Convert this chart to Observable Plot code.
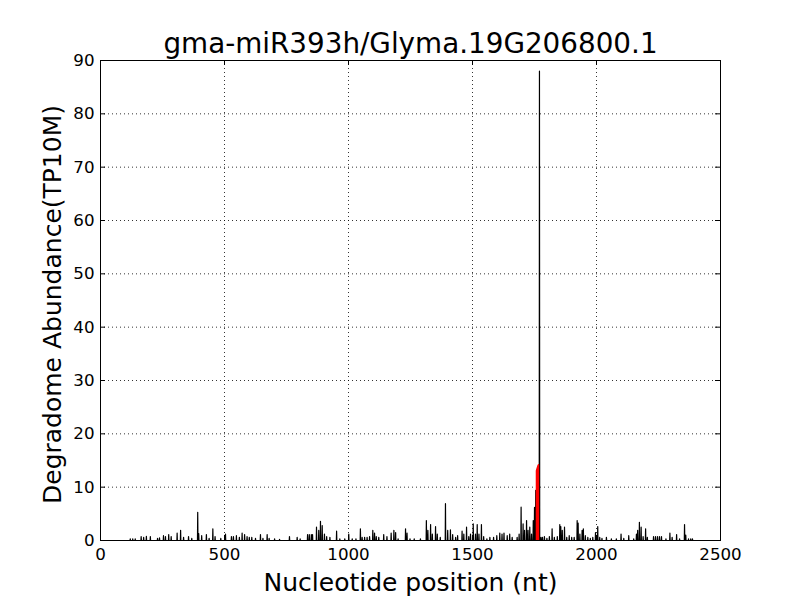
<!DOCTYPE html>
<html>
<head>
<meta charset="utf-8">
<script src="https://cdn.jsdelivr.net/npm/d3@7"></script>
<script src="https://cdn.jsdelivr.net/npm/@observablehq/plot@0.6"></script>
<style>
  html, body { margin: 0; padding: 0; background: white; }
  #chart svg { display: block; }
</style>
</head>
<body>
<div id="chart"></div>
<script>
const title = "gma-miR393h/Glyma.19G206800.1";
const xLabel = "Nucleotide position (nt)";
const yLabel = "Degradome Abundance(TP10M)";
const xTicks = [0, 500, 1000, 1500, 2000, 2500];
const yTicks = [0, 10, 20, 30, 40, 50, 60, 70, 80, 90];
const seqStart = 113;
const seqEnd = 2390;

// Degradome abundance peaks (position in nt, abundance in TP10M)
const peakPos = [120,130,140,164,174,185,201,230,238,254,262,275,285,309,323,335,355,368,392,396,408,427,438,453,462,485,504,528,536,548,560,571,581,591,600,610,625,645,655,672,680,702,722,762,793,805,835,842,850,855,871,880,887,894,903,912,925,952,965,985,1001,1015,1030,1048,1055,1065,1075,1085,1098,1105,1112,1122,1142,1155,1172,1183,1190,1200,1230,1236,1248,1265,1290,1314,1320,1331,1338,1351,1358,1370,1391,1400,1411,1420,1432,1440,1458,1465,1476,1485,1492,1503,1512,1519,1526,1536,1545,1558,1570,1585,1598,1610,1619,1627,1640,1650,1660,1680,1688,1696,1704,1710,1718,1724,1731,1738,1745,1750,1755,1770,1776,1782,1790,1800,1810,1821,1830,1842,1852,1856,1862,1871,1880,1890,1900,1910,1922,1926,1933,1942,1947,1955,1965,1975,1985,1996,2005,2013,2022,2040,2060,2080,2099,2110,2130,2150,2161,2166,2173,2180,2188,2198,2205,2230,2238,2246,2254,2262,2280,2296,2305,2323,2335,2355,2360,2371,2380,2387];
const peakVal = [0.3,0.3,0.3,0.75,0.6,0.8,0.75,0.4,0.5,0.9,0.75,1.1,0.75,1.4,1.9,0.6,0.75,0.4,5.3,1.3,0.9,1.1,0.4,2.2,0.75,0.4,1.2,0.75,0.75,0.9,0.6,1.4,1.1,0.75,0.6,0.6,0.4,1.1,0.4,1.1,0.4,0.3,0.2,0.75,0.6,0.3,1.1,1.1,1.1,1.1,2.5,1.9,3.6,2.8,1.2,0.75,0.6,1.75,0.3,0.3,1.2,0.3,0.3,2.2,0.6,0.6,0.6,0.75,1.9,1.4,0.75,0.6,1.1,0.75,1.4,1.9,1.5,0.3,2.2,1.4,0.3,0.3,0.3,3.75,1.9,3.0,1.2,2.6,1.2,0.6,6.9,1.9,2.0,1.1,0.6,0.9,1.75,1.2,2.5,0.75,1.2,3.1,1.2,3.0,1.2,3.0,0.75,0.3,0.6,0.6,0.9,1.4,1.2,1.4,0.9,1.2,0.6,0.6,1.2,6.25,3.1,1.9,3.75,1.9,2.5,1.2,3.75,6.2,9.4,88,0.6,0.6,0.75,0.4,0.75,2.2,0.6,0.75,3.0,2.6,1.9,2.5,0.6,0.9,0.6,0.6,3.75,3.25,1.2,1.9,2.2,0.9,0.6,0.4,0.6,1.5,2.6,0.6,0.4,0.6,0.3,0.3,1.2,0.4,0.9,0.3,1.2,1.9,3.4,2.5,0.75,2.2,0.6,0.75,0.75,0.75,0.75,0.75,0.3,1.4,0.6,1.1,0.3,3.0,1.0,0.3,0.3,0.3];

// miRNA target site (highlighted in red)
const sitePos = [1760, 1762, 1764, 1766, 1768];
const siteVal = [13.0, 13.3, 13.6, 13.9, 14.1];

// Build a spike line: each peak rises from and returns to zero
const line = [{x: seqStart, y: 0}];
peakPos.forEach((p, i) => {
  line.push({x: p - 1, y: 0}, {x: p, y: peakVal[i]}, {x: p + 1, y: 0});
});
line.push({x: seqEnd, y: 0});
line.sort((a, b) => a.x - b.x);

const site = sitePos.map((p, i) => ({x: p, y: siteVal[i]}));

const font = "DejaVu Sans, sans-serif";
const xMin = xTicks[0], xMax = xTicks[xTicks.length - 1];
const yMin = yTicks[0], yMax = yTicks[yTicks.length - 1];

const chart = Plot.plot({
  width: 800,
  height: 600,
  marginLeft: 100,
  marginRight: 80,
  marginTop: 60,
  marginBottom: 60,
  style: {fontFamily: font, background: "white", color: "black"},
  x: {domain: [xMin, xMax]},
  y: {domain: [yMin, yMax]},
  marks: [
    Plot.gridX(xTicks, {stroke: "black", strokeOpacity: 1, strokeWidth: 0.8, strokeDasharray: "1,3"}),
    Plot.gridY(yTicks, {stroke: "black", strokeOpacity: 1, strokeWidth: 0.8, strokeDasharray: "1,3"}),
    Plot.lineY(line, {x: "x", y: "y", stroke: "black", strokeWidth: 1.2}),
    Plot.areaY(site, {x: "x", y: "y", fill: "red", stroke: "red", strokeWidth: 1.5}),
    Plot.frame({stroke: "black", strokeWidth: 1}),
    // inward ticks on all sides
    Plot.ruleX(xTicks, {x: d => d, y1: yMin, y2: yMin, insetBottom: 5, stroke: "black"}),
    Plot.ruleX(xTicks, {x: d => d, y1: yMax, y2: yMax, insetTop: 5, stroke: "black"}),
    Plot.ruleY(yTicks, {y: d => d, x1: xMin, x2: xMin, insetLeft: 5, stroke: "black"}),
    Plot.ruleY(yTicks, {y: d => d, x1: xMax, x2: xMax, insetRight: 5, stroke: "black"}),
    Plot.axisX(xTicks, {anchor: "bottom", tickSize: 0, tickPadding: 8, label: null, fontSize: 16.7, tickFormat: d => String(d)}),
    Plot.axisY(yTicks, {anchor: "left", tickSize: 0, tickPadding: 6, label: null, fontSize: 16.7, tickFormat: d => String(d)}),
    Plot.text([title], {frameAnchor: "top", lineAnchor: "bottom", dy: -8, fontSize: 27.8, fill: "black"}),
    Plot.text([xLabel], {frameAnchor: "bottom", lineAnchor: "bottom", dy: 50, fontSize: 25, fill: "black"}),
    Plot.text([yLabel], {frameAnchor: "left", textAnchor: "middle", rotate: -90, dx: -48, dy: 4, lineAnchor: "middle", fontSize: 25, fill: "black"})
  ]
});
document.getElementById("chart").appendChild(chart);
</script>
</body>
</html>
